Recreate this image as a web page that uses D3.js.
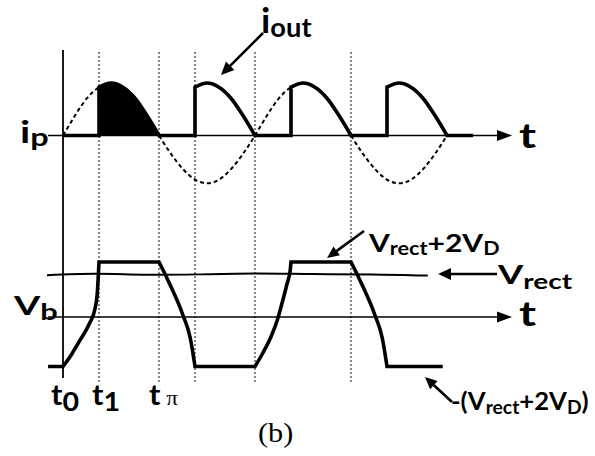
<!DOCTYPE html>
<html>
<head>
<meta charset="utf-8">
<script src="https://cdn.jsdelivr.net/npm/d3@7/dist/d3.min.js"></script>
<style>
  html, body { margin: 0; padding: 0; background: #fff; }
  svg { display: block; }
  text { font-family: Lato, "Open Sans", sans-serif; font-weight: 700; fill: #000; }
</style>
</head>
<body>
<svg id="chart" width="595" height="456"></svg>
<script>
// ---------------- data (phase in degrees) ----------------
const halfWaveDeg = [0, 22.5, 45, 67.5, 90, 112.5, 135, 157.5, 180];
const posHalf     = [0, 0.38, 0.71, 0.92, 1.0, 0.92, 0.71, 0.38, 0];
const negHalf     = [0, -0.35, -0.64, -0.84, -0.91, -0.84, -0.64, -0.35, 0];
const halfStarts  = [0, 180, 360, 540];
const pulseStartIndex = 3;             // conduction starts at 67.5° of every half period
const ioutEndDeg  = 769;               // end of the i_out trace
const dottedDeg   = [67.5, 180, 247.5, 360, 540];

// V_b waveform
const vbHigh = 1.0;                    // Vrect + 2VD
const vbLow  = -0.9;                   // -(Vrect + 2VD)
const vbStartDeg = -28, vbEndDeg = 712;
const rise1Offsets = [0, 16, 32, 50, 60, 64, 67.5];
const rise1Values  = [-0.9, -0.68, -0.42, -0.11, 0.15, 0.4, 1.0];
const rise2Offsets = [0, 15, 30, 42, 52, 60, 66, 67.5];
const rise2Values  = [-0.9, -0.65, -0.36, -0.05, 0.3, 0.6, 0.85, 1.0];
const fallOffsets  = [0, 21, 45, 59, 64, 67.5];
const fallValues   = [1.0, 0.58, 0.03, -0.4, -0.68, -0.9];
const riseStarts   = [0, 360];
const fallStarts   = [180, 540];

// V_rect (slightly wavy)
const vrectDeg    = [-30, 60, 150, 250, 360, 470, 580, 684];
const vrectValues = [0.76, 0.785, 0.77, 0.775, 0.79, 0.78, 0.775, 0.755];

// labels
const timeLabels = [{main: "t", sub: "0"}, {main: "t", sub: "1"}, {main: "t", sub: "π"}];

// ---------------- drawing ----------------
const svg = d3.select("#chart");
svg.append("rect").attr("width", 595).attr("height", 456).attr("fill", "#fff");

const x  = d3.scaleLinear().domain([0, 720]).range([63, 447]);
const yI = d3.scaleLinear().domain([0, 1]).range([135.5, 83]);
const yV = d3.scaleLinear().domain([0, 1]).range([317, 262]);

const M = (ys, p) => `M${x(p[0])},${ys(p[1])}`;
const L = (ys, p) => `L${x(p[0])},${ys(p[1])}`;
const smooth = (ys, pts) => d3.line().x(d => x(d[0])).y(d => ys(d[1])).curve(d3.curveMonotoneX)(pts).replace(/^M/, "L");

function arrowHead(g, tipX, tipY, fromX, fromY, len, halfW) {
  const a = Math.atan2(tipY - fromY, tipX - fromX);
  const bx = tipX - len * Math.cos(a), by = tipY - len * Math.sin(a);
  const px = -Math.sin(a) * halfW, py = Math.cos(a) * halfW;
  g.append("path")
    .attr("d", `M${tipX},${tipY}L${bx + px},${by + py}L${bx - px},${by - py}Z`)
    .attr("fill", "#000");
  return [bx, by];
}
function arrow(fromX, fromY, tipX, tipY, width, len, halfW) {
  const g = svg.append("g");
  const [bx, by] = arrowHead(g, tipX, tipY, fromX, fromY, len, halfW);
  g.append("line").attr("x1", fromX).attr("y1", fromY).attr("x2", bx + (tipX - bx) * 0.2).attr("y2", by + (tipY - by) * 0.2)
    .attr("stroke", "#000").attr("stroke-width", width);
}

// dotted verticals
svg.append("g").selectAll("line").data(dottedDeg).join("line")
  .attr("x1", d => x(d)).attr("x2", d => x(d))
  .attr("y1", 52).attr("y2", 382)
  .attr("stroke", "#222").attr("stroke-width", 1.1).attr("stroke-dasharray", "2,2");

// vertical axis
svg.append("line").attr("x1", x(0)).attr("x2", x(0)).attr("y1", 50).attr("y2", 378)
  .attr("stroke", "#000").attr("stroke-width", 1.8);

// horizontal axes with arrows
[yI(0), yV(0)].forEach(yy => arrow(48, yy, 512, yy, 1.6, 15, 5.5));

// dashed sine (source current)
const sinePts = [];
halfStarts.forEach((s, k) => {
  halfWaveDeg.forEach((d, j) => {
    if (k > 0 && j === 0) return;
    sinePts.push([s + d, k % 2 === 0 ? posHalf[j] : negHalf[j]]);
  });
});
svg.append("path").attr("d", d3.line().x(d => x(d[0])).y(d => yI(d[1])).curve(d3.curveNatural)(sinePts))
  .attr("fill", "none").attr("stroke", "#000").attr("stroke-width", 2).attr("stroke-dasharray", "4,3");

// i_out pulses
const pulsePoints = s => halfWaveDeg.slice(pulseStartIndex).map((d, j) => [s + d, posHalf[pulseStartIndex + j]]);
{
  const s = halfStarts[0];
  const st = s + halfWaveDeg[pulseStartIndex];
  svg.append("path").attr("d", M(yI, [st, 0]) + smooth(yI, pulsePoints(s)) + "Z").attr("fill", "#000");
}
let iout = M(yI, [0, 0]);
halfStarts.forEach(s => {
  const st = s + halfWaveDeg[pulseStartIndex];
  iout += L(yI, [st, 0]) + smooth(yI, pulsePoints(s));
});
iout += L(yI, [ioutEndDeg, 0]);
svg.append("path").attr("d", iout).attr("fill", "none").attr("stroke", "#000")
  .attr("stroke-width", 3.6).attr("stroke-linejoin", "miter");

// V_rect line
svg.append("path").attr("d", d3.line().x(d => x(d[0])).y(d => yV(d[1])).curve(d3.curveNatural)(vrectDeg.map((d, i) => [d, vrectValues[i]])))
  .attr("fill", "none").attr("stroke", "#000").attr("stroke-width", 2);

// V_b waveform
const riseShapes = [[rise1Offsets, rise1Values], [rise2Offsets, rise2Values]];
let vb = M(yV, [vbStartDeg, vbLow]);
for (let k = 0; k < 2; k++) {
  const r = riseStarts[k], f = fallStarts[k];
  const [ro, rv] = riseShapes[k];
  vb += L(yV, [r, vbLow]);
  vb += smooth(yV, ro.map((o, i) => [r + o, rv[i]]));
  vb += L(yV, [f, vbHigh]);
  vb += smooth(yV, fallOffsets.map((o, i) => [f + o, fallValues[i]]));
}
vb += L(yV, [vbEndDeg, vbLow]);
svg.append("path").attr("d", vb).attr("fill", "none").attr("stroke", "#000")
  .attr("stroke-width", 3.6).attr("stroke-linejoin", "miter");

// ---------------- labels ----------------
function subText(xp, yp, parts, sx) {
  const t = svg.append("text").attr("x", 0).attr("y", 0)
    .attr("transform", `translate(${xp},${yp}) scale(${sx || 1},1)`);
  parts.forEach(p => {
    const ts = t.append("tspan").text(p.t).attr("font-size", p.fs);
    if (p.dy) ts.attr("dy", p.dy);
    if (p.family) ts.style("font-family", p.family).style("font-weight", p.weight || 400);
  });
  return t;
}
// i_p
subText(20, 143, [{t: "i", fs: 31}, {t: "p", fs: 25, dy: 3}], 1.3);
// V_b
subText(14, 315, [{t: "V", fs: 27}, {t: "b", fs: 22, dy: 5}], 1.4);
// t arrows
subText(519, 148, [{t: "t", fs: 34}], 1.35);
subText(519, 326, [{t: "t", fs: 34}], 1.35);
// i_out
subText(261, 33, [{t: "i", fs: 35}, {t: "out", fs: 26, dy: 4}], 1.05);
arrow(263, 33, 221, 75, 2.6, 13, 6);
// Vrect + 2VD (top)
subText(369, 252, [{t: "V", fs: 25}, {t: "rect", fs: 18, dy: 3}, {t: "+2V", fs: 25, dy: -3}, {t: "D", fs: 18, dy: 3}], 1.2);
arrow(364, 231, 327, 258, 2.6, 12, 5.5);
// Vrect (right)
subText(498, 284, [{t: "V", fs: 26}, {t: "rect", fs: 20, dy: 5}], 1.4);
arrow(497, 274, 438, 274, 2.6, 13, 6);
// -(Vrect + 2VD)
subText(451, 410, [{t: "-(V", fs: 24}, {t: "rect", fs: 18, dy: 4}, {t: "+2V", fs: 24, dy: -4}, {t: "D", fs: 18, dy: 4}, {t: ")", fs: 24, dy: -4}], 1.07);
arrow(452, 402, 425, 377, 2.6, 12, 5.5);
// time labels
const tX = [51, 92, 149];
timeLabels.forEach((l, i) => {
  if (l.sub === "π") {
    subText(tX[i], 405, [{t: "t", fs: 28}, {t: " π", fs: 21, family: "'Liberation Serif', serif", weight: 400}], 1.1);
  } else {
    subText(tX[i], 405, [{t: "t", fs: 28}, {t: l.sub, fs: 26, dy: 6}], 1.1);
  }
});
// caption
subText(258, 442, [{t: "(b)", fs: 28, family: "'Liberation Serif', 'Times New Roman', serif", weight: 400}], 1.08);
</script>
</body>
</html>
